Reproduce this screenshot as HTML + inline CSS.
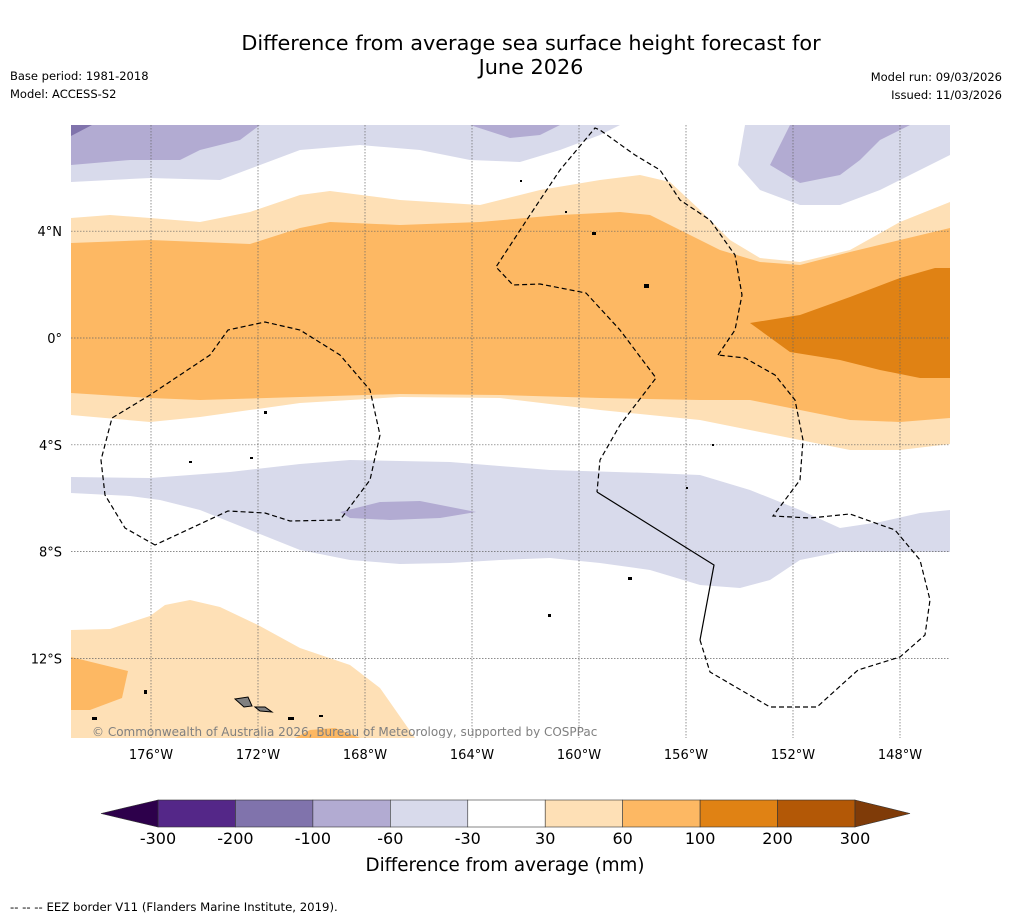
<!DOCTYPE html>
<html><head><meta charset="utf-8">
<style>
body{margin:0;background:#fff;width:1011px;height:919px;overflow:hidden;font-family:"Liberation Sans","DejaVu Sans",sans-serif;}
svg text{font-family:"DejaVu Sans","Liberation Sans",sans-serif;}
</style></head>
<body>
<svg id="chart" width="1011" height="919" viewBox="0 0 1011 919" xmlns="http://www.w3.org/2000/svg">
<rect width="1011" height="919" fill="#fff"/>
<text x="531" y="50" font-size="20.8" text-anchor="middle">Difference from average sea surface height forecast for</text>
<text x="531" y="74" font-size="20.8" text-anchor="middle">June 2026</text>
<text x="10" y="80" font-size="11.5">Base period: 1981-2018</text>
<text x="10" y="98" font-size="11.5">Model: ACCESS-S2</text>
<text x="1002" y="81" font-size="11.5" text-anchor="end">Model run: 09/03/2026</text>
<text x="1002" y="99" font-size="11.5" text-anchor="end">Issued: 11/03/2026</text>
<defs><clipPath id="mapclip"><rect x="71" y="125" width="879" height="613"/></clipPath></defs>
<g clip-path="url(#mapclip)">
<rect x="71" y="125" width="879" height="613" fill="#fff"/>
<path fill="#d8daeb" d="M71,125 L620,125 L600,135 L560,150 L520,162 L470,160 L420,150 L360,145 L300,150 L260,165 L220,180 L150,178 L71,182Z"/>
<path fill="#d8daeb" d="M745,125 L950,125 L950,155 L920,170 L880,190 L840,205 L800,205 L760,190 L738,165Z"/>
<path fill="#b2abd2" d="M71,125 L260,125 L240,140 L200,150 L180,160 L130,160 L71,165Z"/>
<path fill="#b2abd2" d="M470,125 L560,125 L540,135 L510,138Z"/>
<path fill="#b2abd2" d="M790,125 L910,125 L880,140 L860,160 L840,175 L800,183 L770,165Z"/>
<path fill="#8073ac" d="M71,125 L92,125 L71,136Z"/>
<path fill="#fee0b6" d="M71,218 L110,215 L150,218 L200,222 L250,212 L300,195 L330,191 L400,200 L480,205 L540,190 L600,180 L640,175 L670,182 L700,210 L730,240 L760,258 L800,262 L850,250 L900,222 L950,202 L950,444 L900,450 L850,450 L800,440 L700,420 L600,410 L500,398 L400,397 L300,403 L200,417 L150,422 L71,415Z"/>
<path fill="#fdb863" d="M71,243 L150,240 L250,244 L300,228 L330,222 L400,225 L480,222 L560,215 L620,212 L650,215 L680,230 L720,250 L760,262 L800,265 L850,252 L900,240 L950,228 L950,418 L900,422 L850,420 L800,410 L750,400 L700,400 L600,398 L500,395 L400,394 L300,397 L200,400 L150,398 L71,393Z"/>
<path fill="#e08214" d="M750,323 L800,315 L850,297 L900,278 L935,268 L950,268 L950,378 L920,378 L880,370 L840,360 L790,352Z"/>
<path fill="#d8daeb" d="M71,477 L150,478 L230,472 L300,464 L350,460 L450,462 L550,470 L650,473 L700,475 L750,490 L800,510 L840,528 L880,522 L920,513 L950,510 L950,552 L900,552 L840,552 L800,560 L770,580 L740,588 L700,585 L650,570 L600,563 L550,558 L500,560 L450,563 L400,564 L350,560 L300,550 L250,530 L200,510 L160,500 L130,496 L71,493Z"/>
<path fill="#b2abd2" d="M340,512 L380,502 L420,501 L476,512 L440,518 L390,520 L350,518Z"/>
<path fill="#fee0b6" d="M71,630 L110,629 L150,616 L165,605 L190,600 L220,607 L258,625 L300,648 L350,665 L380,688 L415,738 L71,738Z"/>
<path fill="#fdb863" d="M71,657 L128,671 L122,698 L90,710 L71,710Z"/>
<path fill="#fdb863" d="M295,738 L310,730 L335,728 L360,738Z"/>
<g id="grid"></g>
<path fill="none" stroke="#000" stroke-width="1.2" stroke-dasharray="5,3" d="M155,545 L125,528 L105,495 L101,460 L112,418 L150,395 L210,355 L228,330 L265,322 L300,330 L340,355 L370,390 L380,435 L370,480 L340,520 L290,521 L265,513 L228,511 Z"/>
<path fill="none" stroke="#000" stroke-width="1.2" stroke-dasharray="5,3" d="M718,355 L735,330 L742,295 L735,255 L710,220 L680,200 L660,170 L635,155 L600,130 L595,128 L560,170 L530,215 L496,267 L513,285 L540,284 L586,293 L620,330 L656,378 L620,425 L600,460 L597,492"/>
<path fill="none" stroke="#000" stroke-width="1.2" d="M597,492 L714,565 L700,640"/>
<path fill="none" stroke="#000" stroke-width="1.2" stroke-dasharray="5,3" d="M700,640 L710,672 L770,707 L817,707 L858,670 L900,657 L925,635 L930,600 L920,560 L895,530 L850,514 L810,518 L773,516 L800,480 L803,440 L795,400 L775,375 L745,358 L718,355"/>
<path fill="#808080" stroke="#000" d="M235,699 L248,697 L252,706 L244,707Z"/>
<path fill="#808080" stroke="#000" d="M255,707 L265,707 L272,712 L260,711Z"/>
<g fill="#000">
<rect x="592" y="232" width="4" height="3"/><rect x="644" y="284" width="5" height="4"/><rect x="264" y="411" width="3" height="3"/><rect x="144" y="690" width="3" height="4"/><rect x="92" y="717" width="5" height="3"/><rect x="288" y="717" width="6" height="3"/><rect x="319" y="715" width="4" height="2"/><rect x="628" y="577" width="4" height="3"/><rect x="548" y="614" width="3" height="3"/><rect x="250" y="457" width="3" height="2"/><rect x="189" y="461" width="3" height="2"/><rect x="712" y="444" width="2" height="2"/><rect x="686" y="487" width="2" height="2"/><rect x="520" y="180" width="2" height="2"/><rect x="565" y="211" width="2" height="2"/>
</g>
<text x="92" y="736" font-size="12" fill="#808080">© Commonwealth of Australia 2026, Bureau of Meteorology, supported by COSPPac</text>
</g>
<g id="axes"></g>
<g id="colorbar"></g>
<text x="505" y="871" font-size="18.3" text-anchor="middle">Difference from average (mm)</text>
<text x="10" y="911" font-size="11.7">--  --  -- EEZ border V11 (Flanders Marine Institute, 2019).</text>
</svg>
<script>
const lonTicks = [-176, -172, -168, -164, -160, -156, -152, -148];
const latTicks = [4, 0, -4, -8, -12];
const levels = [-300, -200, -100, -60, -30, 30, 60, 100, 200, 300];
const levelColors = ["#542788", "#8073ac", "#b2abd2", "#d8daeb", "#ffffff", "#fee0b6", "#fdb863", "#e08214", "#b35806"];
const underColor = "#2d004b";
const overColor = "#7f3b08";

const NS = "http://www.w3.org/2000/svg";
function xLon(lon){ return 151 + (lon + 176) * 26.75; }
function yLat(lat){ return 338 - lat * 26.7; }
function mk(tag, attrs, parent){
  const e = document.createElementNS(NS, tag);
  for (const k in attrs) e.setAttribute(k, attrs[k]);
  parent.appendChild(e); return e;
}
const grid = document.getElementById('grid');
const axes = document.getElementById('axes');
lonTicks.forEach(lon => {
  const x = xLon(lon);
  const l = mk('line', {x1:x, x2:x, y1:125, y2:738, stroke:'#666', 'stroke-width':0.7, 'stroke-dasharray':'1.5,1.5'}, grid);
  
  
  const t = mk('text', {x:x, y:759, 'font-size':13, 'text-anchor':'middle'}, axes);
  t.textContent = Math.abs(lon) + '°W';
  
  
});
latTicks.forEach(lat => {
  const y = yLat(lat);
  const l = mk('line', {x1:71, x2:950, y1:y, y2:y, stroke:'#666', 'stroke-width':0.7, 'stroke-dasharray':'1.5,1.5'}, grid);
  
  
  const t = mk('text', {x:62, y:y + 5, 'font-size':13, 'text-anchor':'end'}, axes);
  t.textContent = lat === 0 ? '0°' : Math.abs(lat) + '°' + (lat > 0 ? 'N' : 'S');
  
  
});
const cb = document.getElementById('colorbar');
const cbX0 = 158, cbX1 = 855, cbY = 800, cbH = 27;
const segW = (cbX1 - cbX0) / (levels.length - 1);
function xLevel(i){ return cbX0 + i * segW; }
levelColors.forEach((c, i) => {
  const r = mk('rect', {x:xLevel(i), y:cbY, width:segW, height:cbH, fill:c, stroke:'#333', 'stroke-width':0.6}, cb);
  
  
});
const tl = mk('path', {d:`M${cbX0},${cbY} L101,${cbY+cbH/2} L${cbX0},${cbY+cbH}Z`, fill:underColor, stroke:'#333','stroke-width':0.6}, cb);


const tr = mk('path', {d:`M${cbX1},${cbY} L910,${cbY+cbH/2} L${cbX1},${cbY+cbH}Z`, fill:overColor, stroke:'#333','stroke-width':0.6}, cb);


levels.forEach((v, i) => {
  const t = mk('text', {x:xLevel(i), y:844, 'font-size':16, 'text-anchor':'middle'}, cb);
  t.textContent = v;
  
  
});
</script>
</body></html>
